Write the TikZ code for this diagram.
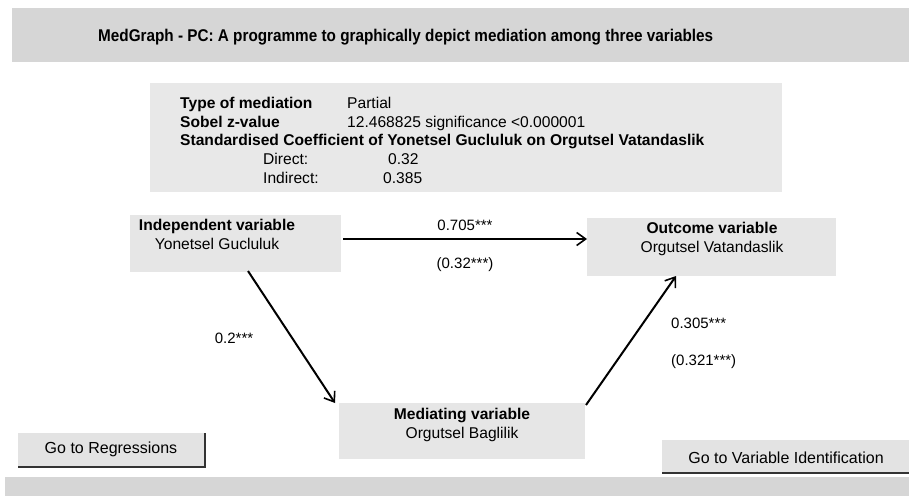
\documentclass[tikz,border=0pt]{standalone}
\usepackage{fontspec}
\usepackage{graphicx}
\setmainfont{Liberation Sans}
\usetikzlibrary{arrows.meta}
\definecolor{bandgray}{HTML}{D6D6D6}
\definecolor{boxgray}{HTML}{E8E8E8}
\definecolor{nodegray}{HTML}{E6E6E6}
\definecolor{btngray}{HTML}{E3E3E3}
\tikzset{
  varbox/.style={fill=nodegray, draw=none, inner sep=0pt},
  lbl/.style={font=\fontsize{15.6}{19}\selectfont, align=center, inner sep=0pt},
  num/.style={font=\fontsize{15}{17}\selectfont, inner sep=0pt},
  conn/.style={line width=2pt, -{Straight Barb[length=9pt,width=13pt,line width=1.6pt]}},
  info/.style={font=\fontsize{15.6}{17}\selectfont, inner sep=0pt, anchor=base west},
  infob/.style={info, font=\fontsize{15.6}{17}\selectfont\bfseries},
}
\begin{document}
\begin{tikzpicture}[x=1pt,y=-1pt]
\useasboundingbox (0,0) rectangle (909,498);
% top band
\fill[bandgray] (12,8) rectangle (909,62);
\node[font=\fontsize{17}{19}\selectfont\bfseries, anchor=base west, inner sep=0pt] (title) at (98,41) {\resizebox{615pt}{\height}{MedGraph - PC: A programme to graphically depict mediation among three variables}};
% info box
\fill[boxgray] (150,83) rectangle (782,192);
\node[infob] (t1) at (180,108.5) {Type of mediation};
\node[info] (v1) at (347,108.5) {Partial};
\node[infob] (t2) at (180,127.5) {Sobel z-value};
\node[info] (v2) at (347,127.5) {12.468825 significance <0.000001};
\node[infob] (t3) at (180,145.5) {Standardised Coefficient of Yonetsel Gucluluk on Orgutsel Vatandaslik};
\node[info] (t4) at (263,164.5) {Direct:};
\node[info] (v4) at (388,164.5) {0.32};
\node[info] (t5) at (263,183.5) {Indirect:};
\node[info] (v5) at (383,183.5) {0.385};
% variable boxes
\node[varbox, minimum width=211, minimum height=57] (indep) at (235.5,243.5) {};
\node[lbl] (indeplbl) at (217,234.5) {\textbf{Independent variable}\\Yonetsel Gucluluk};
\node[varbox, minimum width=249, minimum height=58] (outc) at (711.5,247) {};
\node[lbl] (outclbl) at (712,238.5) {\textbf{Outcome variable}\\Orgutsel Vatandaslik};
\node[varbox, minimum width=246, minimum height=56] (med) at (462,431) {};
\node[lbl] (medlbl) at (462,425) {\textbf{Mediating variable}\\Orgutsel Baglilik};
% connectors
\coordinate (a1) at (343,239);
\coordinate (a2) at (587,239);
\draw[conn] (a1) -- (a2);
\coordinate (b1) at (248,271);
\coordinate (b2) at (335,403);
\draw[conn] (b1) -- (b2);
\coordinate (c1) at (586,405);
\coordinate (c2) at (676,276);
\draw[conn] (c1) -- (c2);
% labels
\node[num] (l1) at (465,225) {0.705***};
\node[num] (l2) at (465,265) {(0.32***)};
\node[num] (l3) at (234,338) {0.2***};
\node[num, anchor=west] (l4) at (671,323) {0.305***};
\node[num, anchor=west] (l5) at (671,362) {(0.321***)};
% buttons
\fill[btngray] (18,433) rectangle (205,467);
\draw[line width=1.3pt, black!80] (18,467) -- (205,467) -- (205,433);
\node[num, font=\fontsize{16}{18}\selectfont] (btn1) at (111,449) {Go to Regressions};
\fill[btngray] (662,440) rectangle (909,473);
\draw[line width=1.3pt, black!80] (662,473) -- (909,473);
\node[num, font=\fontsize{16}{18}\selectfont] (btn2) at (786,458) {Go to Variable Identification};
% bottom band
\fill[bandgray] (5,477) rectangle (909,496);
\end{tikzpicture}
\end{document}
